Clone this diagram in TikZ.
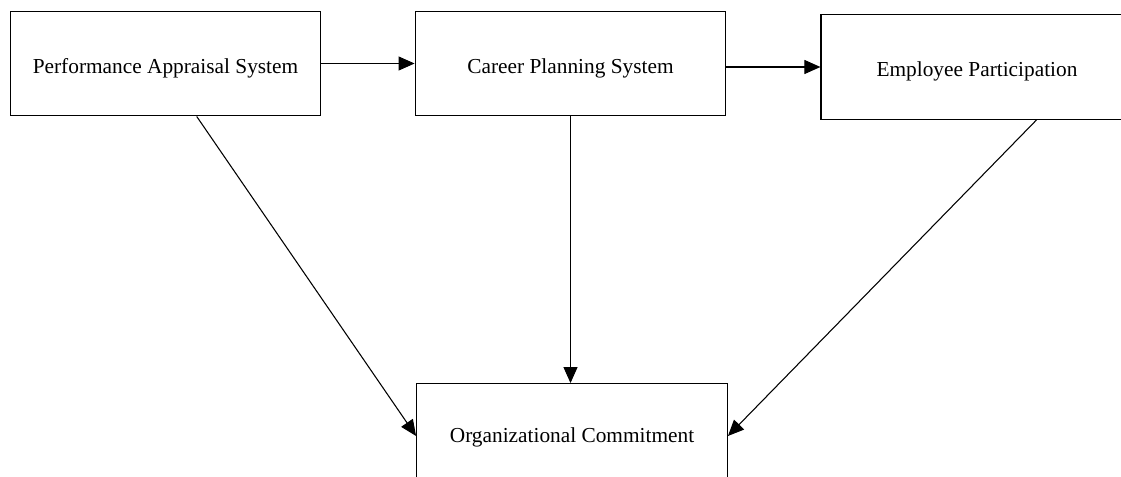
\documentclass[tikz,border=0pt]{standalone}
\usepackage{fontspec}
\setmainfont{Liberation Serif}
\usetikzlibrary{arrows.meta,calc}

\begin{document}
\begin{tikzpicture}[x=0.75pt, y=-0.75pt,
  box/.style={draw, line width=0.9pt, minimum width=233pt, minimum height=78.5pt, inner sep=0pt,
    text height=15pt, text depth=0pt, font=\fontsize{16}{19}\selectfont},
  link/.style={-{Triangle[length=12pt, width=10.5pt]}, line width=0.8pt}]
\useasboundingbox (0,0) rectangle (1121,477);
\clip (0,0) rectangle (1121,477);

\node [box] (appr) at (165.5,63.5) {Performance Appraisal System};
\node [box] (plan) at (570.5,63.5) {Career Planning System};
\node [box, minimum width=234pt] (part) at (977,67) {Employee Participation};
\node [box, text height=10pt] (comm) at (572,436) {Organizational Commitment};

\draw [link] (appr.east) to (plan.west);
\draw [link] (plan.east |- part.west) to (part.west);
\draw [link] (plan.south) to (plan.south |- comm.north);
\draw [link] ($(appr.south west)!0.6!(appr.south east)$) to (comm.west);
\draw [link] ($(part.south west)!0.69!(part.south east)$) to (comm.east);
\end{tikzpicture}
\end{document}
